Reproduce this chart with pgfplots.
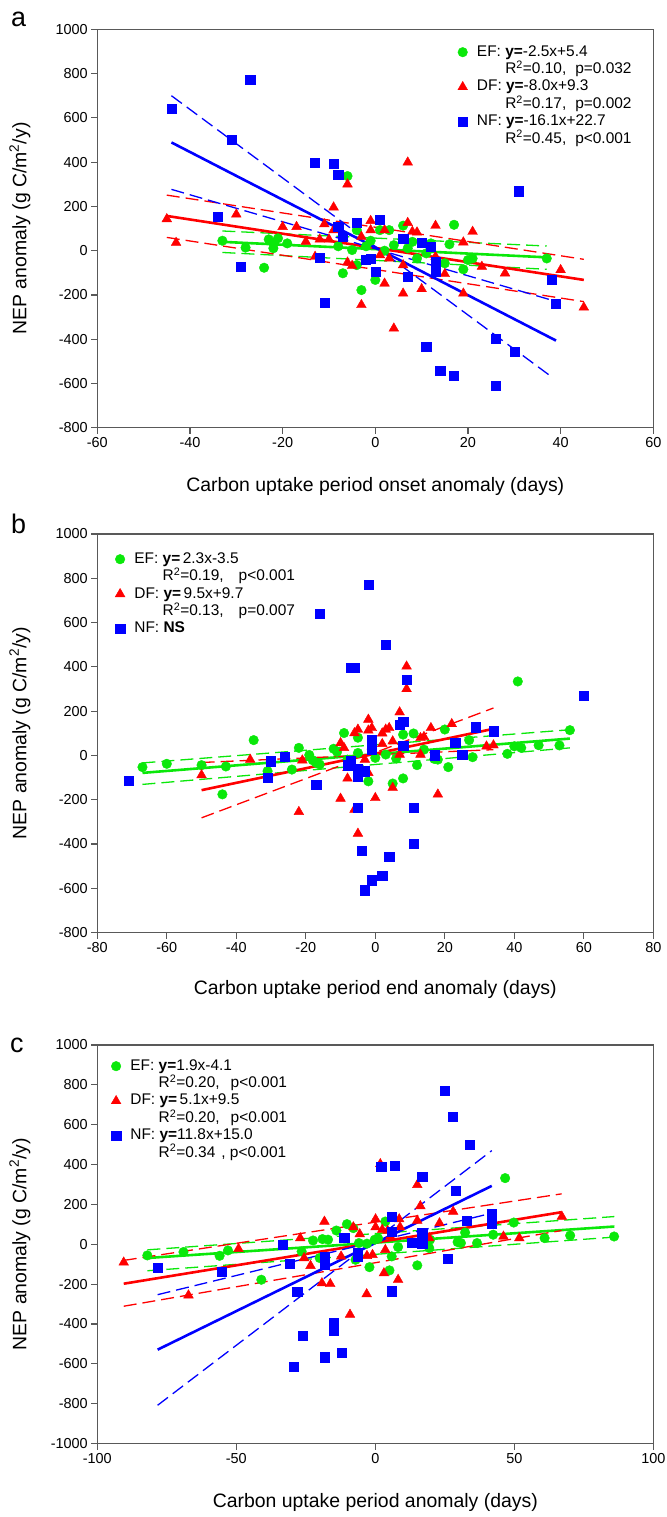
\documentclass[border=0pt]{standalone}
\usepackage{pgfplots}
\pgfplotsset{compat=1.18}
\usepackage{fontspec}
\setmainfont{Liberation Sans}
\definecolor{cg}{RGB}{10,232,10}
\definecolor{cr}{RGB}{255,0,0}
\definecolor{cb}{RGB}{0,0,255}
\pgfplotsset{
  panel/.style={
    scale only axis, width=556bp, height=398.5bp, anchor=north west,
    axis line style={draw=black!65, line width=1.2bp},
    every tick/.style={draw=black!65, line width=1.1bp},
    tick align=outside, major tick length=6bp, tick pos=left,
    ticklabel style={font=\fontsize{14.5}{16}\selectfont, text=black},
    /pgf/number format/assume math mode=true,
    /pgf/number format/1000 sep={},
    label style={font=\fontsize{19.5}{22}\selectfont},
    ylabel style={at={(axis description cs:-0.139,0.5)}, anchor=center},
    legend style={draw=none, fill=none, inner sep=0pt, outer sep=0pt, row sep=0pt, column sep=0pt,
      anchor=north west, font=\fontsize{15.5}{18}\selectfont,
      nodes={inner xsep=0pt, inner ysep=0.7bp, text height=12bp, text depth=4bp}},
    legend cell align=left,
    legend image code/.code={\draw[#1] plot coordinates {(4.75bp,0bp)};
      \node[inner sep=0pt, minimum size=0pt, draw=none, fill=none] at (19bp,0bp) {};},
  },
  ef/.style={only marks, mark=*, mark size=4.8bp, cg, mark options={fill=cg, draw=none}},
  df/.style={only marks, mark=triangle*, mark size=5.6bp, cr, mark options={fill=cr, draw=none}},
  nf/.style={only marks, mark=square*, mark size=4.6bp, cb, mark options={fill=cb, draw=none}},
  sl/.style={no marks, line width=2.6bp, forget plot},
  dl/.style={no marks, line width=1.3bp, dash pattern=on 13bp off 6bp, forget plot},
}
\newcommand{\RR}{R\textsuperscript{2}}
\begin{document}
\begin{tikzpicture}
\useasboundingbox (0,0) rectangle (667bp,-1517bp);
\node[anchor=base west, font=\fontsize{27}{30}\selectfont, inner sep=0pt] at (11bp,-26.7bp) {a};
\node[anchor=base west, font=\fontsize{27}{30}\selectfont, inner sep=0pt] at (11bp,-533bp) {b};
\node[anchor=base west, font=\fontsize{27}{30}\selectfont, inner sep=0pt] at (10bp,-1052bp) {c};
% ---------------- panel a
\begin{axis}[panel, at={(97.3bp,-29.3bp)},
  xmin=-60, xmax=60, ymin=-800, ymax=1000,
  xtick={-60,-40,...,60}, ytick={-800,-600,...,1000},
  xlabel={Carbon uptake period onset anomaly (days)},
  xlabel style={at={(axis description cs:0.5,-0.148)}, anchor=center},
  ylabel={NEP anomaly (g C/m\textsuperscript{2}/y)},
  legend style={at={(axis description cs:0.6485,0.9644)}},
]
\addplot[ef] coordinates {(-33,45) (-28,14) (-24,-77) (-23,51) (-22,11) (-21,56) (-22,35) (-19,33) (-6,337) (-4,93) (-5,3) (-4,-65) (-7,-102) (-3,-178) (0,-132) (1,93) (3,93) (6,113) (7,11) (9,-35) (11,-12) (12,33) (15,-57) (16,29) (17,117) (19,-84) (20,-42) (21,-35) (37,-35) (-2,20) (2,0) (4,25) (-1,45) (8,40) (-8,20)};
\addlegendentry{EF: \textbf{y=}-2.5x+5.4}
\addlegendimage{empty legend}
\addlegendentry{\hphantom{EF: }\RR=0.10,\hspace{9bp}p=0.032}
\addplot[df] coordinates {(-45,143) (-43,36) (-30,164) (-20,108) (-17,108) (-15,41) (-13,-27) (-11,120) (-12,51) (-10,51) (-9,196) (-9,93) (-6,300) (-6,-53) (-5,-68) (-3,-245) (-3,63) (-1,135) (-1,93) (1,-20) (2,93) (2,-148) (3,-35) (4,-351) (6,-65) (6,-193) (7,126) (7,399) (8,86) (9,83) (10,-173) (13,113) (13,-27) (15,-105) (19,38) (19,-193) (21,86) (23,-72) (28,-102) (40,-87) (45,-256)};
\addlegendentry{DF: \textbf{y=}-8.0x+9.3}
\addlegendimage{empty legend}
\addlegendentry{\hphantom{EF: }\RR=0.17,\hspace{9bp}p=0.002}
\addplot[nf] coordinates {(-44,643) (-27,774) (-31,503) (-34,154) (-29,-72) (-13,397) (-9,394) (-8,343) (-8,108) (-7,63) (-12,-32) (-11,-235) (-4,126) (-2,-42) (-1,-35) (0,-96) (1,141) (6,53) (7,-117) (10,36) (12,18) (13,-50) (13,-95) (11,-433) (14,-543) (17,-564) (26,-396) (26,-611) (30,-456) (31,269) (38,-132) (39,-238)};
\addlegendentry{NF: \textbf{y=}-16.1x+22.7}
\addlegendimage{empty legend}
\addlegendentry{\hphantom{EF: }\RR=0.45,\hspace{9bp}p<0.001}
\addplot[sl, cg] coordinates {(-33,40) (37,-30)};
\addplot[dl, cg] coordinates {(-33,89) (37,21)};
\addplot[dl, cg] coordinates {(-33,-8) (37,-84)};
\addplot[sl, cr] coordinates {(-45,157) (45,-132)};
\addplot[dl, cr] coordinates {(-45,251) (45,-39)};
\addplot[dl, cr] coordinates {(-45,60) (45,-230)};
\addplot[sl, cb] coordinates {(-44,489) (39,-406)};
\addplot[dl, cb] coordinates {(-44,700) (38,-569)};
\addplot[dl, cb] coordinates {(-44,277) (38,-223)};
\end{axis}
% ---------------- panel b
\begin{axis}[panel, at={(97.3bp,-534bp)},
  xmin=-80, xmax=80, ymin=-800, ymax=1000,
  xtick={-80,-60,...,80}, ytick={-800,-600,...,1000},
  xlabel={Carbon uptake period end anomaly (days)},
  xlabel style={at={(axis description cs:0.5,-0.143)}, anchor=center},
  ylabel={NEP anomaly (g C/m\textsuperscript{2}/y)},
  legend style={at={(axis description cs:0.0323,0.9586)}},
]
\addplot[ef] coordinates {(-67,-53) (-60,-38) (-50,-44) (-44,-176) (-43,-50) (-35,69) (-31,-71) (-24,-64) (-22,34) (-19,2) (-18,-22) (-17,-34) (-16,-41) (-11,16) (-9,101) (-8,-19) (-5,80) (-5,11) (-2,-117) (0,-11) (5,-127) (6,-14) (8,94) (8,-104) (11,99) (12,-44) (17,-16) (18,-19) (20,117) (21,-53) (27,69) (28,-8) (38,7) (40,41) (41,334) (42,34) (47,46) (53,45) (56,114) (14,26) (3,4) (-12,30)};
\addlegendentry{EF: \textbf{y=}\,2.3x-3.5}
\addlegendimage{empty legend}
\addlegendentry{\hphantom{EF: }\RR=0.19,\hspace{15bp}p<0.001}
\addplot[df] coordinates {(-50,-89) (-36,-19) (-21,-22) (-22,-255) (-10,-195) (-10,56) (-9,34) (-8,-104) (-8,-56) (-6,-245) (-6,101) (-5,117) (-5,-353) (-3,-19) (-2,162) (-2,-79) (-2,113) (-1,124) (-1,41) (0,-192) (2,52) (3,117) (4,124) (5,-146) (5,64) (7,195) (9,402) (9,300) (7,4) (13,79) (14,84) (16,124) (18,-176) (22,142) (32,41) (34,46) (13,4) (2,100)};
\addlegendentry{DF: \textbf{y=}\,9.5x+9.7}
\addlegendimage{empty legend}
\addlegendentry{\hphantom{EF: }\RR=0.13,\hspace{15bp}p=0.007}
\addplot[nf] coordinates {(-71,-116) (-31,-101) (-30,-26) (-26,-5) (-17,-131) (-16,641) (-7,395) (-6,395) (-2,772) (3,500) (9,342) (7,139) (8,154) (-1,72) (-1,27) (8,44) (-8,-44) (-7,-26) (-5,-61) (-5,-94) (-3,-71) (-5,-237) (-4,-432) (-3,-609) (-1,-564) (2,-545) (4,-458) (11,-237) (11,-398) (17,1) (23,56) (25,4) (29,127) (34,109) (60,270)};
\addlegendentry{NF: \textbf{NS}}
\addplot[sl, cg] coordinates {(-67,-79) (56,76)};
\addplot[dl, cg] coordinates {(-67,-34) (56,116)};
\addplot[dl, cg] coordinates {(-67,-131) (56,34)};
\addplot[sl, cr] coordinates {(-50,-157) (34,120)};
\addplot[dl, cr] coordinates {(-50,-282) (34,214)};
\addplot[dl, cr] coordinates {(-50,-32) (34,26)};
\end{axis}
% ---------------- panel c
\begin{axis}[panel, at={(97.3bp,-1045bp)},
  xmin=-100, xmax=100, ymin=-1000, ymax=1000,
  xtick={-100,-50,...,100}, ytick={-1000,-800,...,1000},
  xlabel={Carbon uptake period anomaly (days)},
  xlabel style={at={(axis description cs:0.5,-0.148)}, anchor=center},
  ylabel={NEP anomaly (g C/m\textsuperscript{2}/y)},
  legend style={at={(axis description cs:0.0251,0.9687)}},
]
\addplot[ef] coordinates {(-82,-56) (-69,-39) (-56,-58) (-53,-31) (-41,-178) (-26.5,-36) (-22.4,19) (-19,26) (-17,23) (-20,-69) (-14,69) (-10.2,101) (-7.9,81) (-7.1,-78) (-5.9,6) (-2.1,-115) (-0.2,23) (3.6,114) (5.1,-131) (5.9,-61) (8.2,-14) (15.1,-106) (19.4,-19) (19.7,23) (29.6,11) (30.8,6) (32.3,59) (36.6,6) (42.4,48) (46.7,332) (49.8,109) (60.9,31) (70.1,44) (85.9,39) (-3,3) (1,30)};
\addlegendentry{EF: \textbf{y=}1.9x-4.1}
\addlegendimage{empty legend}
\addlegendentry{\hphantom{EF: }\RR=0.20,\hspace{11bp}p<0.001}
\addplot[df] coordinates {(-90.5,-91) (-67.2,-256) (-49.2,-23) (-27,31) (-25.6,-69) (-23.3,-108) (-19.2,-195) (-18.3,114) (-16.2,-199) (-12.3,-61) (-9.1,-353) (-7.9,86) (-5.6,51) (-3.1,-250) (-3,-58) (-1,-53) (0.1,126) (0.1,86) (1.8,403) (2.5,73) (3.1,-145) (3.6,-28) (4.4,68) (8.2,-178) (8.6,126) (8.9,86) (15.1,298) (15.1,119) (16.2,192) (19.4,31) (23.1,106) (28,164) (46.1,39) (51.8,31) (67.1,139) (5.4,39)};
\addlegendentry{DF: \textbf{y=}\,5.1x+9.5}
\addlegendimage{empty legend}
\addlegendentry{\hphantom{EF: }\RR=0.20,\hspace{11bp}p<0.001}
\addplot[nf] coordinates {(-78.3,-119) (-55.2,-136) (-33.3,-3) (-30.8,-99) (-28.1,-240) (-29.3,-613) (-26.1,-459) (-18.1,-567) (-18.1,-61) (-18.1,-103) (-15.1,-395) (-15.1,-434) (-12.2,-546) (-11.2,34) (-6.4,-44) (-6.4,-61) (2.1,390) (7,395) (5.9,140) (5.9,64) (5.9,-236) (13.2,6) (16.9,340) (16.9,56) (16.9,1) (24.9,771) (25.9,-74) (27.9,641) (28.9,268) (32.8,119) (33.9,499) (41.9,153) (41.9,106)};
\addlegendentry{NF: \textbf{y=}11.8x+15.0}
\addlegendimage{empty legend}
\addlegendentry{\hphantom{EF: }\RR=0.34\hspace{6bp}, p<0.001}
\addplot[sl, cg] coordinates {(-82,-69) (86,89)};
\addplot[dl, cg] coordinates {(-82,-28) (86,139)};
\addplot[dl, cg] coordinates {(-82,-133) (86,36)};
\addplot[sl, cr] coordinates {(-90.5,-198) (67,161)};
\addplot[dl, cr] coordinates {(-90.5,-81) (67,253)};
\addplot[dl, cr] coordinates {(-90.5,-311) (67,69)};
\addplot[sl, cb] coordinates {(-78.3,-529) (41.9,293)};
\addplot[dl, cb] coordinates {(-78.3,-808) (41.9,470)};
\addplot[dl, cb] coordinates {(-78.3,-253) (41.9,156)};
\end{axis}
\end{tikzpicture}
\end{document}
